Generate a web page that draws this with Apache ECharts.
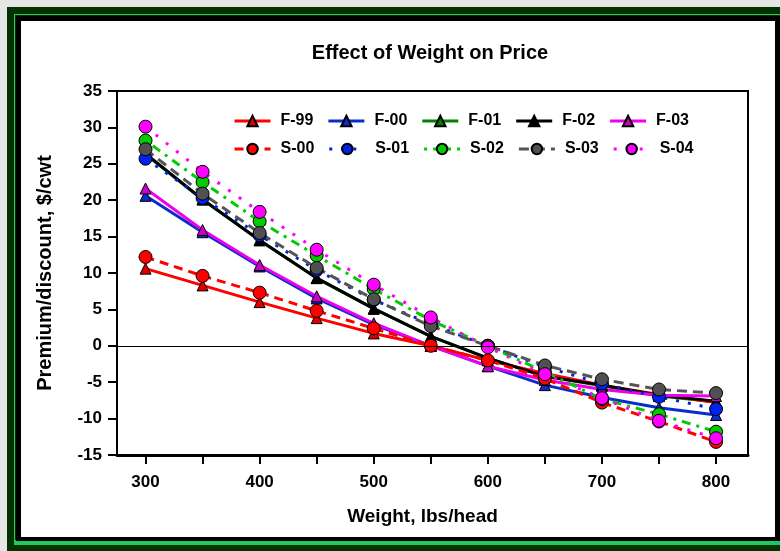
<!DOCTYPE html>
<html>
<head>
<meta charset="utf-8">
<script src="https://cdn.jsdelivr.net/npm/echarts@6/dist/echarts.min.js"></script>
<style>
html,body{margin:0;padding:0;width:780px;height:551px;overflow:hidden;background:#e6e6e6;}
#f1{position:absolute;left:7px;top:7px;width:780px;height:544px;background:#013301;}
#f2{position:absolute;left:14px;top:14px;width:780px;height:527px;border-top:1px solid #3fbf6f;border-left:1px solid #3fbf6f;}
#f3{position:absolute;left:14px;top:540px;width:780px;height:5px;background:#1ec864;}
#f4{position:absolute;left:16px;top:16px;background:#fff;border:5px solid #000;border-bottom:4px solid #000;box-sizing:border-box;width:764px;height:525px;}
#chart{position:absolute;left:0;top:0;width:780px;height:551px;}
</style>
</head>
<body>
<div id="f1"></div><div id="f2"></div><div id="f3"></div><div id="f4"></div>
<div id="chart"></div>
<script>
const weights = [300, 350, 400, 450, 500, 550, 600, 650, 700, 750, 800];
const xTicks = [300, 350, 400, 450, 500, 550, 600, 650, 700, 750, 800];
const xLabels = [300, 400, 500, 600, 700, 800];

const F99 = [10.6, 8.3, 6.0, 3.8, 1.7, 0, -2.0, -3.8, -5.4, -6.7, -7.8];
const F00 = [20.6, 15.6, 10.9, 6.5, 2.9, 0, -2.8, -5.4, -7.1, -8.5, -9.5];
const F01 = [26.3, 20.1, 14.5, 9.3, 5.1, 1.3, -1.7, -4.2, -5.5, -6.9, -7.7];
const F02 = [26.4, 20.1, 14.5, 9.3, 5.1, 1.3, -1.7, -4.2, -5.4, -6.8, -7.6];
const F03 = [21.6, 15.9, 11.1, 6.8, 3.1, 0, -2.8, -4.7, -6.0, -6.8, -6.9];
const S00 = [12.2, 9.6, 7.3, 4.8, 2.4, 0, -2.0, -4.5, -7.8, -10.4, -13.2];
const S01 = [25.7, 20.3, 15.2, 10.4, 6.3, 3.0, 0, -2.9, -5.2, -7.0, -8.7];
const S02 = [28.2, 22.5, 17.1, 12.4, 7.8, 3.5, 0, -3.6, -7.3, -9.4, -11.8];
const S03 = [27.0, 20.9, 15.5, 10.7, 6.4, 2.7, 0, -2.7, -4.6, -6.0, -6.5];
const S04 = [30.1, 23.9, 18.4, 13.2, 8.4, 3.9, -0.2, -3.9, -7.2, -10.3, -12.7];

const FONT = '"Liberation Sans", Arial, sans-serif';

function pairs(vals) { return weights.map((w, i) => [w, vals[i]]); }

function fSeries(name, vals, color, fill) {
  return {
    name: name, type: 'line', data: pairs(vals),
    symbol: 'triangle', symbolSize: 11,
    lineStyle: { color: color, width: 3, type: 'solid' },
    itemStyle: { color: fill, borderColor: '#000', borderWidth: 1 },
    emphasis: { disabled: true }, z: 2
  };
}
function sSeries(name, vals, color, fill, dash) {
  return {
    name: name, type: 'line', data: pairs(vals),
    symbol: 'circle', symbolSize: 13,
    lineStyle: { color: color, width: 3, type: dash },
    itemStyle: { color: fill, borderColor: '#000', borderWidth: 1 },
    emphasis: { disabled: true }, z: 3
  };
}

const series = [
  fSeries('F-01', F01, '#008000', '#008000'),
  fSeries('F-99', F99, '#ff0000', '#dd0000'),
  fSeries('F-00', F00, '#0a2ccc', '#0a2ccc'),
  fSeries('F-02', F02, '#000000', '#000000'),
  fSeries('F-03', F03, '#ee00ee', '#cc00cc'),
  sSeries('S-00', S00, '#ff0000', '#ff0000', [9, 6]),
  sSeries('S-01', S01, '#0022dd', '#0022ee', [3, 9]),
  sSeries('S-02', S02, '#00cc00', '#00cc00', [3, 6, 9, 6]),
  sSeries('S-03', S03, '#555555', '#505050', [10, 6]),
  sSeries('S-04', S04, '#ff00ff', '#ff00ff', [3, 10])
];
series[1].markLine = {
  silent: true, symbol: 'none', label: { show: false },
  lineStyle: { color: '#000', width: 1, type: 'solid' },
  data: [{ yAxis: 0 }]
};

const legendBase = {
  left: 228, itemWidth: 36, itemHeight: 13, itemGap: 13.5,
  lineStyle: { width: 3 },
  textStyle: { fontFamily: FONT, fontWeight: 'bold', fontSize: 16, color: '#000', width: 36, padding: [0, 0, 0, 5] },
  selectedMode: false
};

const chart = echarts.init(document.getElementById('chart'), null, { renderer: 'canvas' });
chart.setOption({
  backgroundColor: 'transparent',
  animation: false,
  title: {
    text: 'Effect of Weight on Price', left: 425, top: 38, textAlign: 'center',
    textStyle: { fontFamily: FONT, fontWeight: 'bold', fontSize: 20, color: '#000' }
  },
  legend: [
    Object.assign({}, legendBase, { top: 108, data: ['F-99', 'F-00', 'F-01', 'F-02', 'F-03'] }),
    Object.assign({}, legendBase, { top: 136, data: ['S-00', 'S-01', 'S-02', 'S-03', 'S-04'] })
  ],
  grid: {
    left: 117, right: 32, top: 91, bottom: 96,
    show: true, borderColor: '#000', borderWidth: 2, backgroundColor: 'transparent'
  },
  xAxis: {
    type: 'value', min: 275, max: 828,
    name: 'Weight, lbs/head', nameLocation: 'middle', nameGap: 52,
    nameTextStyle: { fontFamily: FONT, fontWeight: 'bold', fontSize: 19, color: '#000', padding: [0, 20, 0, 0] },
    axisLine: { show: true, onZero: false, lineStyle: { color: '#000', width: 3 } },
    axisTick: { show: true, inside: false, length: 9, customValues: xTicks, lineStyle: { color: '#000', width: 2 } },
    axisLabel: { customValues: xLabels, margin: 19, fontFamily: FONT, fontWeight: 'bold', fontSize: 17, color: '#000' },
    splitLine: { show: false }
  },
  yAxis: {
    type: 'value', min: -15, max: 35, interval: 5,
    name: 'Premium/discount, $/cwt', nameLocation: 'middle', nameGap: 62,
    nameTextStyle: { fontFamily: FONT, fontWeight: 'bold', fontSize: 20, color: '#000' },
    axisLine: { show: true, onZero: false, lineStyle: { color: '#000', width: 2 } },
    axisTick: { show: true, inside: false, length: 9, lineStyle: { color: '#000', width: 2 } },
    axisLabel: { margin: 15, fontFamily: FONT, fontWeight: 'bold', fontSize: 17, color: '#000' },
    splitLine: { show: false }
  },
  series: series
});
</script>
</body>
</html>
